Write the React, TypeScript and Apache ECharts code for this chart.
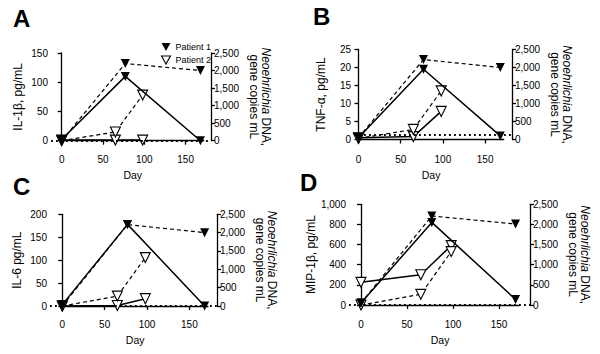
import React, { useEffect, useRef } from "react";
import * as echarts from "echarts";

const FONT = "'Liberation Sans', Arial, Helvetica, sans-serif";

// ---- data ----
const panelLetters = ["A", "B", "C", "D"];
const cytokineTitles = ["IL-1β, pg/mL", "TNF-α, pg/mL", "IL-6 pg/mL", "MIP-1β, pg/mL"];
const cytokineMax = [150, 25, 200, 1000];
const cytokineStep = [50, 5, 50, 200];
const dnaMax = 2500;
const dnaStep = 500;
const dayTicks = [0, 50, 100, 150];
const dayEnd = 172;

const p1Days = [0, 77, 168];
const p2Days = [0, 65, 98];

// Patient 1 cytokine values (pg/mL)
const p1IL1b = [2, 110, 0];
const p1TNF = [0.5, 19.5, 1];
const p1IL6 = [3, 178, 0];
const p1MIP = [20, 820, 55];
// Patient 1 Neoehrlichia DNA (gene copies/mL), per panel
const p1DnaA = [0, 2200, 2000];
const p1DnaB = [50, 2220, 2000];
const p1DnaC = [0, 2220, 2000];
const p1DnaD = [50, 2210, 2010];

// Patient 2 cytokine values (pg/mL)
const p2IL1b = [1, 1, 1];
const p2TNF = [0.5, 0.8, 7.8];
const p2IL6 = [0, 1, 16];
const p2MIP = [225, 300, 590];
// Patient 2 Neoehrlichia DNA
const p2DnaA = [0, 250, 1300];
const p2DnaB = [30, 280, 1350];
const p2DnaC = [0, 270, 1320];
const p2DnaD = [0, 265, 1325];

// detection-limit dotted line (left axis units)
const dottedLevel = [0, 1.4, 0, 0];

const p1Cyto = [p1IL1b, p1TNF, p1IL6, p1MIP];
const p1Dna = [p1DnaA, p1DnaB, p1DnaC, p1DnaD];
const p2Cyto = [p2IL1b, p2TNF, p2IL6, p2MIP];
const p2Dna = [p2DnaA, p2DnaB, p2DnaC, p2DnaD];

// ---- layout (pixels) ----
const layouts = [
  { lx: 13, ly: 6, leftX: 51, rightX: 211, topY: 53, zeroY: 140.7, day0X: 61.7, ppd: 0.826, xLineY: 151 },
  { lx: 313, ly: 4, leftX: 354, rightX: 512, topY: 49.5, zeroY: 139.5, day0X: 358.5, ppd: 0.844, xLineY: 151 },
  { lx: 13, ly: 174, leftX: 50, rightX: 217, topY: 214.3, zeroY: 306, day0X: 62.3, ppd: 0.847, xLineY: 316 },
  { lx: 300, ly: 170, leftX: 349, rightX: 530, topY: 204.3, zeroY: 305, day0X: 361, ppd: 0.92, xLineY: 316 },
];

const zip = (xs: number[], ys: number[]) => xs.map((x, i) => [x, ys[i]]);
const fmt = (v: number) => v.toLocaleString("en-US");
const TRI = "path://M0,0L10,0L5,9Z";

function buildOption() {
  const grid: any[] = [];
  const xAxis: any[] = [];
  const yAxis: any[] = [];
  const series: any[] = [];
  const title: any[] = [];
  const black = "#000";
  const axisLineStyle = { color: black, width: 1.3 };

  layouts.forEach((L, i) => {
    title.push({
      text: panelLetters[i],
      left: L.lx,
      top: L.ly,
      padding: 0,
      textStyle: { fontSize: 24, fontWeight: "bold", fontFamily: FONT, color: black },
    });
    const gData = grid.length;
    grid.push({ left: L.leftX, top: L.topY, width: L.rightX - L.leftX, height: L.zeroY - L.topY });
    const gAxis = grid.length;
    grid.push({ left: L.day0X, top: L.topY, width: dayEnd * L.ppd, height: L.zeroY - L.topY });

    const xData = xAxis.length;
    xAxis.push({
      type: "value",
      gridIndex: gData,
      show: false,
      min: -(L.day0X - L.leftX) / L.ppd,
      max: (L.rightX - L.day0X) / L.ppd,
      splitLine: { show: false },
    });
    xAxis.push({
      type: "value",
      gridIndex: gAxis,
      min: 0,
      max: dayEnd,
      offset: L.xLineY - L.zeroY,
      name: "Day",
      nameLocation: "middle",
      nameGap: 18,
      nameTextStyle: { fontSize: 10.5, fontFamily: FONT, color: black },
      axisLine: { show: true, lineStyle: axisLineStyle },
      axisTick: { show: true, length: 4, customValues: dayTicks, lineStyle: axisLineStyle },
      axisLabel: { customValues: dayTicks, fontSize: 10, margin: 3, color: black, fontFamily: FONT },
      splitLine: { show: false },
    });

    const yLeft = yAxis.length;
    yAxis.push({
      type: "value",
      gridIndex: gData,
      position: "left",
      min: 0,
      max: cytokineMax[i],
      interval: cytokineStep[i],
      name: cytokineTitles[i],
      nameLocation: "middle",
      nameGap: 27,
      nameTextStyle: { fontSize: 12, fontFamily: FONT, color: black },
      axisLine: { show: true, lineStyle: axisLineStyle },
      axisTick: { show: true, length: 4, lineStyle: axisLineStyle },
      axisLabel: { fontSize: 10, margin: 3, color: black, fontFamily: FONT, formatter: fmt },
      splitLine: { show: false },
    });
    const yRight = yAxis.length;
    yAxis.push({
      type: "value",
      gridIndex: gData,
      position: "right",
      min: 0,
      max: dnaMax,
      interval: dnaStep,
      name: "{i|Neoehrlichia} DNA,\ngene copies mL",
      nameLocation: "middle",
      nameRotate: -90,
      nameGap: 37,
      nameTextStyle: {
        fontSize: 12,
        fontFamily: FONT,
        color: black,
        lineHeight: 12,
        rich: { i: { fontStyle: "italic", fontSize: 12, fontFamily: FONT, color: black } },
      },
      axisLine: { show: true, lineStyle: axisLineStyle },
      axisTick: { show: true, length: 4, lineStyle: axisLineStyle },
      axisLabel: { fontSize: 10, margin: 3, color: black, fontFamily: FONT, formatter: fmt },
      splitLine: { show: false },
    });
    yAxis.push({ type: "value", gridIndex: gAxis, show: false, min: 0, max: 1, splitLine: { show: false } });

    const filled = { color: black, borderWidth: 0 };
    const open = { color: "#fff", borderColor: black, borderWidth: 1.1 };
    series.push({
      type: "line",
      name: "Patient 2",
      xAxisIndex: xData,
      yAxisIndex: yLeft,
      data: zip(p2Days, p2Cyto[i]),
      symbol: "triangle",
      symbolRotate: 180,
      symbolSize: 10,
      itemStyle: open,
      lineStyle: { color: black, width: 1.5, type: "solid" },
      markLine: {
        silent: true,
        symbol: "none",
        label: { show: false },
        lineStyle: { color: black, width: 1.8, type: [1.8, 3.2] },
        data: [{ yAxis: dottedLevel[i] }],
      },
      z: 2,
    });
    series.push({
      type: "line",
      name: "Patient 2",
      xAxisIndex: xData,
      yAxisIndex: yRight,
      data: zip(p2Days, p2Dna[i]),
      symbol: "triangle",
      symbolRotate: 180,
      symbolSize: 10,
      itemStyle: open,
      lineStyle: { color: black, width: 1.2, type: [4, 3] },
      z: 3,
    });
    series.push({
      type: "line",
      name: "Patient 1",
      xAxisIndex: xData,
      yAxisIndex: yLeft,
      data: zip(p1Days, p1Cyto[i]),
      symbol: "triangle",
      symbolRotate: 180,
      symbolSize: 9,
      itemStyle: filled,
      lineStyle: { color: black, width: 1.5, type: "solid" },
      z: 4,
    });
    series.push({
      type: "line",
      name: "Patient 1",
      xAxisIndex: xData,
      yAxisIndex: yRight,
      data: zip(p1Days, p1Dna[i]),
      symbol: "triangle",
      symbolRotate: 180,
      symbolSize: 9,
      itemStyle: filled,
      lineStyle: { color: black, width: 1.2, type: [4, 3] },
      z: 5,
    });
  });

  return {
    animation: false,
    backgroundColor: "#fff",
    textStyle: { fontFamily: FONT },
    title,
    legend: {
      left: 156,
      top: 37,
      orient: "vertical",
      itemWidth: 9,
      itemHeight: 8,
      itemGap: 3,
      selectedMode: false,
      textStyle: { fontSize: 9, fontFamily: FONT, color: "#000", lineHeight: 10 },
      data: [
        { name: "Patient 1", icon: TRI, itemStyle: { color: "#000", borderWidth: 0 } },
        { name: "Patient 2", icon: TRI, itemStyle: { color: "#fff", borderColor: "#000", borderWidth: 1.1 } },
      ],
    },
    grid,
    xAxis,
    yAxis,
    series,
  };
}

export default function App() {
  const ref = useRef<HTMLDivElement>(null);
  useEffect(() => {
    if (!ref.current) return;
    const chart = echarts.init(ref.current, undefined, { renderer: "svg" });
    chart.setOption(buildOption() as any);
    return () => chart.dispose();
  }, []);
  return (
    <div
      ref={ref}
      style={{ position: "absolute", left: 0, top: 0, width: 600, height: 354, background: "#fff" }}
    />
  );
}
